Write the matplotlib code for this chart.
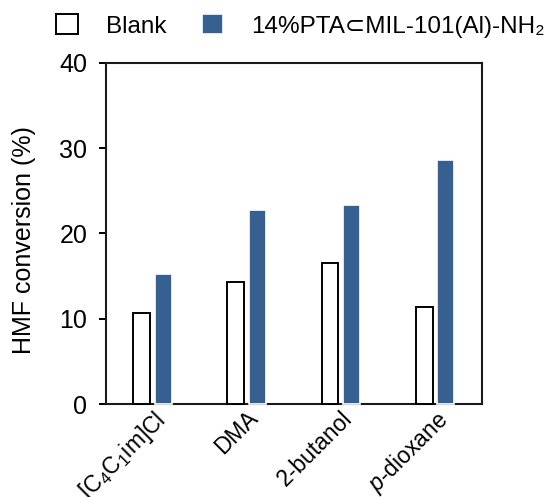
import matplotlib
matplotlib.use("Agg")
import matplotlib.pyplot as plt
import numpy as np

categories = ['[C$_4$C$_1$im]Cl', 'DMA', '2-butanol', '$\\mathit{p}$-dioxane']
blank = [10.7, 14.3, 16.5, 11.4]
catalyst = [15.2, 22.8, 23.3, 28.6]
series_names = ['Blank', '14%PTA\u2282MIL-101(Al)-NH\u2082']
yticks = [0, 10, 20, 30, 40]

plt.rcParams['font.family'] = ['Liberation Sans', 'DejaVu Sans']
plt.rcParams['mathtext.fontset'] = 'custom'
plt.rcParams['mathtext.rm'] = 'Liberation Sans'
plt.rcParams['mathtext.it'] = 'Liberation Sans:italic'
plt.rcParams['mathtext.bf'] = 'Liberation Sans:bold'

FS = 18
blue = '#365F92'

fig = plt.figure(figsize=(5.47, 4.97), dpi=100)
ax = fig.add_axes([105.5/547, 1-404/497, (482-105.5)/547, (404-63)/497])

x = np.arange(len(categories))
w = 0.18
off = 0.115
b1 = ax.bar(x - off, blank, w, facecolor='white', edgecolor='black', linewidth=1.4,
            zorder=3, clip_on=False, label=series_names[0])
b2 = ax.bar(x + off, catalyst, w, facecolor=blue, edgecolor='white', linewidth=1.2,
            zorder=3, clip_on=False, label=series_names[1])

ax.set_xlim(-0.5, 3.5)
ax.set_ylim(0, 40)
ax.set_yticks(yticks)
ax.set_yticklabels([str(v) for v in yticks], fontsize=FS)
ax.set_xticks(x)
ax.set_xticklabels(categories, fontsize=16.5, rotation=45, ha='right', va='top',
                   rotation_mode='anchor')
ax.tick_params(axis='x', length=0, pad=2)
ax.tick_params(axis='y', direction='out', length=5, width=1.4, pad=8)
for s in ax.spines.values():
    s.set_linewidth(1.5)
    s.set_color('#1a1a1a')

ax.set_ylabel('HMF conversion (%)', fontsize=FS)
ax.yaxis.set_label_coords(-0.185, 0.48)

leg = fig.legend(handles=[b1, b2], labels=series_names, loc='center left',
                 bbox_to_anchor=(56/547, 1-26/497), ncol=2, frameon=False,
                 prop={'family': ['Liberation Sans', 'DejaVu Sans'], 'size': 17.5},
                 handlelength=0.9, handleheight=0.9,
                 handletextpad=1.15, columnspacing=1.45, borderpad=0, borderaxespad=0)

fig.savefig('out.png', dpi=100)
